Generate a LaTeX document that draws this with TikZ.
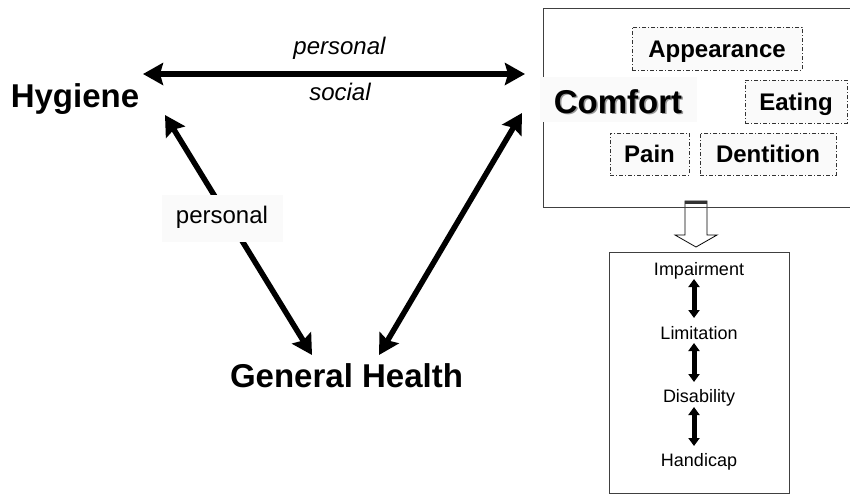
\documentclass[tikz,border=0pt]{standalone}
\usepackage{fontspec}
\setmainfont{Liberation Sans}
\usetikzlibrary{arrows.meta}
\tikzset{
  big/.style={font=\fontsize{33}{36}\selectfont\bfseries, inner sep=0pt, anchor=base},
  lbl/.style={font=\fontsize{24}{28}\selectfont, inner sep=0pt, anchor=base},
  small/.style={font=\fontsize{18}{21}\selectfont, inner sep=0pt, anchor=base},
  dbox/.style={draw=black!80, line width=0.8pt, dash pattern=on 4pt off 2pt on 1pt off 2pt,
    fill=black!2, inner sep=0pt, text height=17.2pt, text depth=0pt,
    font=\fontsize{24}{28}\selectfont\bfseries},
  frame/.style={draw=black!75, line width=1pt},
  thick arrow/.style={line width=5.5pt, {Stealth[length=20pt,width=22pt,inset=3pt]}-{Stealth[length=20pt,width=22pt,inset=3pt]}},
  two arrow/.style={line width=5.5pt, {Stealth[length=20pt,width=22pt,inset=3pt]}-{Stealth[length=20pt,width=22pt,inset=3pt]}},
  step arrow/.style={line width=5pt, {Triangle[length=8pt,width=11pt]}-{Triangle[length=8pt,width=11pt]}},
}
\begin{document}
\begin{tikzpicture}[x=1pt,y=-1pt]
\clip (0,0) rectangle (850,496);
\fill[white] (0,0) rectangle (850,496);

% hollow arrow from Comfort box to lower box
\filldraw[fill=white, draw=black, line width=0.8pt]
  (685,201) -- (707,201) -- (707,235) -- (717,235) -- (696,247) -- (675,235) -- (685,235) -- cycle;
\fill[black!80] (685,201) rectangle (707,204);

% Comfort frame
\draw[frame] (543,8) rectangle (860,207);
\fill[black!2] (540,77) rectangle (697,122);

% Lower box
\draw[frame] (609,252) rectangle (789,493);

% main texts
\node[big] (hyg) at (75,107) {Hygiene};
\node[big, text=black!40] (comfsh) at (619.5,114.5) {Comfort};
\node[big] (comf) at (618,113) {Comfort};
\node[big] (gh) at (346.5,387) {General Health};

% arrow end points
\coordinate (hl) at (143,74);
\coordinate (hr) at (525,74);
\coordinate (hd) at (165,115);
\coordinate (gl) at (312,355);
\coordinate (gr) at (379,355);
\coordinate (cd) at (522,113);

\draw[thick arrow] (hl) -- (hr);
\node[lbl, font=\fontsize{24}{28}\selectfont\itshape] (pers1) at (339.5,54) {personal};
\node[lbl, font=\fontsize{24}{28}\selectfont\itshape] (soc) at (340,100) {social};

\draw[two arrow] (hd) -- (gl);
\draw[two arrow] (cd) -- (gr);

\fill[black!2] (162,195) rectangle (283,242);
\node[lbl] (pers2) at (222,223) {personal};

% dashed boxes
\node[dbox, minimum width=170pt, minimum height=43pt] (app) at (717,48.5) {Appearance};
\node[dbox, minimum width=102pt, minimum height=43pt] (eat) at (796,101.5) {Eating};
\node[dbox, minimum width=79pt, minimum height=42pt] (pain) at (649.5,154) {Pain};
\node[dbox, minimum width=136pt, minimum height=42pt] (dent) at (768,154) {Dentition};

% lower box stages
\node[small] (imp) at (699,275) {Impairment};
\node[small] (lim) at (699,339) {Limitation};
\node[small] (dis) at (699,402) {Disability};
\node[small] (han) at (699,466) {Handicap};

\coordinate (a1) at (694,279); \coordinate (b1) at (694,318);
\coordinate (a2) at (694,343); \coordinate (b2) at (694,382);
\coordinate (a3) at (694,407); \coordinate (b3) at (694,446);
\draw[step arrow] (a1) -- (b1);
\draw[step arrow] (a2) -- (b2);
\draw[step arrow] (a3) -- (b3);
\end{tikzpicture}
\end{document}
